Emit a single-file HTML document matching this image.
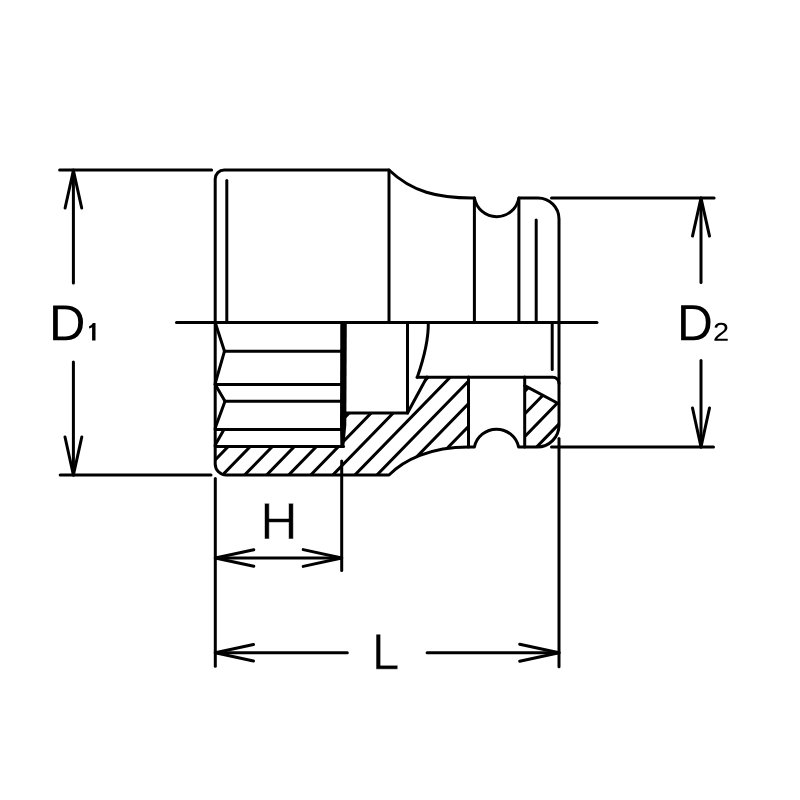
<!DOCTYPE html>
<html><head><meta charset="utf-8"><title>Socket dimensions</title><style>
html,body{margin:0;padding:0;background:#fff;width:800px;height:800px;overflow:hidden}
svg{display:block}
</style></head><body>
<svg width="800" height="800" viewBox="0 0 800 800">
<defs>
<clipPath id="c1"><path d="M215.2,446.5 L343.5,446.5 L343.5,413 L407.5,413 L427,377 L468.5,377 L468.5,447.0 C430,447.0 404,460 389,475.0 L226.2,475.0 A11.0,11.0 0 0 1 215.2,464.0 Z"/><path d="M524.7,385.6 L559.0,403.75 L559.0,425.25 A21.75,21.75 0 0 1 537.25,447.0 L524.7,447.0 Z"/></clipPath>
</defs>
<rect width="800" height="800" fill="#fff"/>
<g clip-path="url(#c1)" stroke="#000" stroke-width="3.0" stroke-linecap="round">
<line x1="154.02" y1="500" x2="290.52" y2="360"/>
<line x1="176.08" y1="500" x2="312.58" y2="360"/>
<line x1="198.14" y1="500" x2="334.64" y2="360"/>
<line x1="220.20" y1="500" x2="356.70" y2="360"/>
<line x1="242.26" y1="500" x2="378.76" y2="360"/>
<line x1="264.32" y1="500" x2="400.82" y2="360"/>
<line x1="286.38" y1="500" x2="422.88" y2="360"/>
<line x1="308.44" y1="500" x2="444.94" y2="360"/>
<line x1="330.50" y1="500" x2="467.00" y2="360"/>
<line x1="352.56" y1="500" x2="489.06" y2="360"/>
<line x1="374.62" y1="500" x2="511.12" y2="360"/>
<line x1="396.68" y1="500" x2="533.18" y2="360"/>
<line x1="418.74" y1="500" x2="555.24" y2="360"/>
<line x1="440.80" y1="500" x2="577.30" y2="360"/>
<line x1="462.86" y1="500" x2="599.36" y2="360"/>
<line x1="484.92" y1="500" x2="621.42" y2="360"/>
<line x1="506.98" y1="500" x2="643.48" y2="360"/>
<line x1="529.04" y1="500" x2="665.54" y2="360"/>
</g>
<g fill="none" stroke="#000" stroke-linecap="round" stroke-linejoin="round">
<path d="M215.2,464.0 L215.2,179.0 A9.0,9.0 0 0 1 224.2,170.0 L389,170.0 C412,192 438,198.0 472,198.0 L474.4,198.0 A22.6,22.6 0 0 0 518.9,198.0 L538.0,198.0 A21.0,21.0 0 0 1 559.0,219.0 L559.0,425.25 A21.75,21.75 0 0 1 537.25,447.0 L518.6,447.0 A22.6,22.6 0 0 0 474.4,447.0 L468.5,447.0 C430,447.0 404,460 389,475.0 L226.2,475.0 A11.0,11.0 0 0 1 215.2,464.0 Z" stroke-width="3.0"/>
<line x1="226.8" y1="180.5" x2="226.8" y2="322.5" stroke-width="3.0"/>
<line x1="389" y1="170.0" x2="389" y2="322.5" stroke-width="3.0"/>
<line x1="474.4" y1="198.0" x2="474.4" y2="322.5" stroke-width="3.0"/>
<line x1="518.9" y1="198.0" x2="518.9" y2="322.5" stroke-width="3.0"/>
<line x1="536.2" y1="220" x2="536.2" y2="322.5" stroke-width="3.0"/>
<line x1="176.5" y1="322.5" x2="597" y2="322.5" stroke-width="3.0"/>
<path d="M215.2,322.5 L224.5,351.2 L215.2,383.5" stroke-width="3.0"/>
<line x1="224.5" y1="351.2" x2="343.5" y2="351.2" stroke-width="3.0"/>
<line x1="215.2" y1="384.4" x2="343.5" y2="384.4" stroke-width="3.0"/>
<path d="M215.2,384.4 L225,401.2 L215.2,428" stroke-width="3.0"/>
<line x1="225" y1="401.2" x2="343.5" y2="401.2" stroke-width="3.0"/>
<line x1="215.2" y1="429.6" x2="343.5" y2="429.6" stroke-width="3.0"/>
<line x1="224" y1="429.6" x2="215.2" y2="445" stroke-width="3.0"/>
<line x1="215.2" y1="446.4" x2="343.5" y2="446.4" stroke-width="3.0"/>
<path d="M343.5,413 L407.5,413 L407.5,322.5" stroke-width="3.0"/>
<line x1="407.5" y1="413" x2="427" y2="377" stroke-width="3.0"/>
<path d="M428.3,322.5 C428.6,338 425,355 417.3,377.2" stroke-width="3.0"/>
<path d="M417,377.2 L552.5,377.2 A6.25,6.25 0 0 1 559.0,383.45" stroke-width="3.0"/>
<line x1="468.5" y1="377" x2="468.5" y2="447.0" stroke-width="3.0"/>
<line x1="524.7" y1="377" x2="524.7" y2="447.0" stroke-width="3.0"/>
<line x1="552.2" y1="324" x2="552.2" y2="369.5" stroke-width="3.0"/>
<line x1="524.7" y1="385.6" x2="558.7" y2="403.75" stroke-width="3.0"/>
<line x1="59.6" y1="170.0" x2="211.6" y2="170.0" stroke-width="3.0"/>
<line x1="60.2" y1="475.0" x2="211" y2="475.0" stroke-width="3.0"/>
<line x1="73.4" y1="170.0" x2="73.4" y2="283.1" stroke-width="3.0"/>
<line x1="73.4" y1="361.9" x2="73.4" y2="475.0" stroke-width="3.0"/>
<path d="M65.10,208.00 L73.4,170.5 L81.70,208.00" stroke-width="3.0"/>
<path d="M81.80,437.00 L73.4,475.0 L65.00,437.00" stroke-width="3.0"/>
<line x1="551.5" y1="198.1" x2="714.1" y2="198.1" stroke-width="3.0"/>
<line x1="551.5" y1="447" x2="713.5" y2="447" stroke-width="3.0"/>
<line x1="701" y1="198.1" x2="701" y2="282.6" stroke-width="3.0"/>
<line x1="701" y1="360.4" x2="701" y2="447" stroke-width="3.0"/>
<path d="M692.50,236.10 L701,198.1 L709.50,236.10" stroke-width="3.0"/>
<path d="M709.50,408.00 L701,447 L692.50,408.00" stroke-width="3.0"/>
<line x1="215.3" y1="478.5" x2="215.3" y2="666.3" stroke-width="3.0"/>
<line x1="341.7" y1="461" x2="341.7" y2="570.5" stroke-width="3.0"/>
<line x1="215.3" y1="558" x2="341.7" y2="558" stroke-width="3.0"/>
<path d="M253.80,566.30 L215.3,558 L253.80,549.70" stroke-width="3.0"/>
<path d="M303.20,549.60 L341.7,558 L303.20,566.40" stroke-width="3.0"/>
<line x1="215.3" y1="652.7" x2="347.3" y2="652.7" stroke-width="3.0"/>
<line x1="427.1" y1="652.7" x2="559" y2="652.7" stroke-width="3.0"/>
<line x1="559" y1="438.5" x2="559" y2="666.8" stroke-width="3.0"/>
<path d="M253.50,660.95 L215.3,652.7 L253.50,644.45" stroke-width="3.0"/>
<path d="M519.70,644.20 L559,652.7 L519.70,661.20" stroke-width="3.0"/>
</g>
<path d="M340.3,321.5 L346.8,321.5 L346.3,425 L344.2,447.6 L340.4,447.6 L340.0,425 Z" fill="#000"/>
<path transform="matrix(0.02465 0 0 -0.02477 48.959 340.300)" d="M1381 719Q1381 501 1296 337.5Q1211 174 1055 87Q899 0 695 0H168V1409H634Q992 1409 1186.5 1229.5Q1381 1050 1381 719ZM1189 719Q1189 981 1045.5 1118.5Q902 1256 630 1256H359V153H673Q828 153 945.5 221Q1063 289 1126 417Q1189 545 1189 719Z" fill="#000"/>
<path transform="matrix(0.02424 0 0 -0.02491 677.028 340.300)" d="M1381 719Q1381 501 1296 337.5Q1211 174 1055 87Q899 0 695 0H168V1409H634Q992 1409 1186.5 1229.5Q1381 1050 1381 719ZM1189 719Q1189 981 1045.5 1118.5Q902 1256 630 1256H359V153H673Q828 153 945.5 221Q1063 289 1126 417Q1189 545 1189 719Z" fill="#000"/>
<path transform="matrix(0.01426 0 0 -0.01259 712.932 340.800)" d="M103 0V127Q154 244 227.5 333.5Q301 423 382 495.5Q463 568 542.5 630Q622 692 686 754Q750 816 789.5 884Q829 952 829 1038Q829 1154 761 1218Q693 1282 572 1282Q457 1282 382.5 1219.5Q308 1157 295 1044L111 1061Q131 1230 254.5 1330Q378 1430 572 1430Q785 1430 899.5 1329.5Q1014 1229 1014 1044Q1014 962 976.5 881Q939 800 865 719Q791 638 582 468Q467 374 399 298.5Q331 223 301 153H1036V0Z" fill="#000"/>
<path transform="matrix(0.02526 0 0 -0.02534 260.256 539.000)" d="M1121 0V653H359V0H168V1409H359V813H1121V1409H1312V0Z" fill="#000" stroke="#fff" stroke-width="0.60" vector-effect="non-scaling-stroke"/>
<path transform="matrix(0.02403 0 0 -0.02491 372.013 669.250)" d="M168 0V1409H359V156H1071V0Z" fill="#000" stroke="#fff" stroke-width="0.50" vector-effect="non-scaling-stroke"/>
<path d="M92.1,340.6 L95.5,340.6 L95.5,323.1 L92.9,323.1 Q91.8,325.6 89.1,326.2 L89.1,328.4 Q91.0,328.0 92.1,327.2 Z" fill="#000"/>
</svg>
</body></html>
